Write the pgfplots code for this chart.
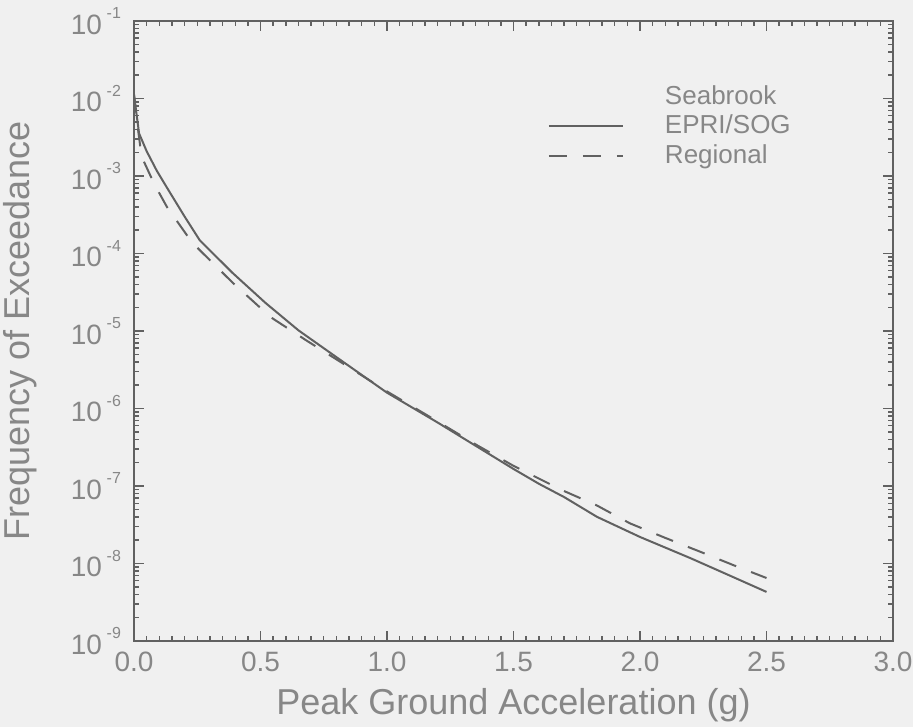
\documentclass[border=0pt]{standalone}
\usepackage{fontspec}
\setmainfont{Liberation Sans}
\usepackage{pgfplots}
\pgfplotsset{compat=1.18}

\definecolor{ink}{gray}{0.38}
\definecolor{txt}{gray}{0.53}
\definecolor{paper}{gray}{0.942}
\newcommand\pw[1]{10\,\raisebox{1.05ex}{\fontsize{8}{8}\selectfont -#1}}

\begin{document}
\begin{tikzpicture}
\fill[paper] (-67pt,-43pt) rectangle (389.5pt,320.5pt);
\begin{axis}[
    scale only axis, width=379.5pt, height=310pt,
    ymode=log, xmin=0, xmax=3, ymin=1e-9, ymax=1e-1,
    xtick={0,0.5,...,3.0}, minor x tick num=9,
    xticklabels={0.0,0.5,1.0,1.5,2.0,2.5,3.0},
    ytick={1e-9,1e-8,1e-7,1e-6,1e-5,1e-4,1e-3,1e-2,1e-1},
    yticklabels={\pw9,\pw8,\pw7,\pw6,\pw5,\pw4,\pw3,\pw2,\pw1},
    /pgf/number format/assume math mode=true,
    axis line style={ink, line width=0.9pt},
    major tick length=5pt, minor tick length=2.5pt,
    every tick/.style={ink, line width=0.7pt},
    tick label style={txt, font=\fontsize{14}{14}\selectfont},
    yticklabel style={xshift=-3pt},
    xticklabel style={yshift=-2pt},
    xlabel={Peak Ground Acceleration (g)},
    ylabel={Frequency of Exceedance},
    label style={txt, font=\fontsize{18}{18}\selectfont},
    x label style={at={(axis description cs:0.5,0)}, anchor=center, yshift=-32pt},
    y label style={at={(axis description cs:0,0.5)}, anchor=center, rotate=0, yshift=57pt},
    legend style={at={(0.537,0.91)}, anchor=north west, draw=none, fill=none,
        font=\fontsize{13}{13}\selectfont, text=txt, row sep=0pt},
    legend cell align=left,
    legend image code/.code={\draw[#1] (0pt,0pt) -- (37pt,0pt); \path[draw=none] (0pt,0pt) -- (56pt,0pt);},
]
\addlegendimage{empty legend}
\addlegendentry{Seabrook}
\addplot[ink, line width=1pt] coordinates {
    (0.00,1.12e-2)(0.01,6.3e-3)(0.02,3.55e-3)(0.05,2.09e-3)(0.09,1.17e-3)
    (0.13,7.1e-4)(0.20,3.0e-4)(0.26,1.48e-4)(0.39,5.6e-5)(0.52,2.3e-5)
    (0.65,1.02e-5)(0.80,4.6e-6)(1.00,1.6e-6)(1.20,6.6e-7)(1.36,3.16e-7)
    (1.50,1.66e-7)(1.60,1.07e-7)(1.70,7.2e-8)(1.83,4.0e-8)(2.00,2.2e-8)
    (2.20,1.17e-8)(2.35,7.1e-9)(2.50,4.3e-9)
};
\addlegendentry{EPRI/SOG}
\addplot[ink, line width=1pt, dash pattern=on 9pt off 8pt] coordinates {
    (0.00,1.12e-2)(0.01,5.6e-3)(0.03,1.78e-3)(0.08,7.9e-4)(0.13,4.0e-4)
    (0.23,1.38e-4)(0.39,4.2e-5)(0.54,1.51e-5)(0.68,7.6e-6)(0.85,3.4e-6)
    (1.00,1.66e-6)(1.20,6.8e-7)(1.36,3.3e-7)(1.50,1.82e-7)(1.69,8.9e-8)
    (1.83,5.6e-8)(1.96,3.3e-8)(2.10,2.14e-8)(2.24,1.41e-8)(2.37,9.5e-9)
    (2.50,6.5e-9)
};
\addlegendentry{Regional}
\end{axis}
\pgfresetboundingbox
\path[use as bounding box] (-67pt,-43pt) rectangle (389.5pt,320.5pt);
\end{tikzpicture}
\end{document}
